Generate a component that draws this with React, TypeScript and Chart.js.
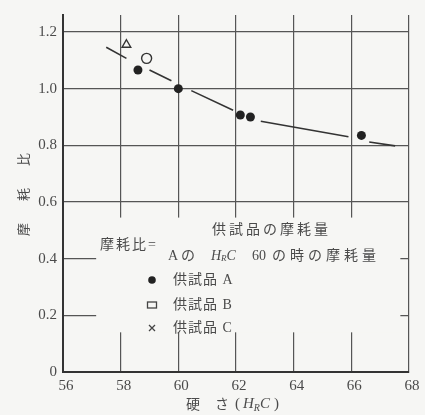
import React, { useEffect, useRef } from 'react';
import { Chart, registerables } from 'chart.js';
Chart.register(...registerables);

// ---- data ----
const xTickValues = [56, 58, 60, 62, 64, 66, 68];
const yTickValues = [0, 0.2, 0.4, 0.6, 0.8, 1.0, 1.2];
const specimenA = [
  { x: 58.6, y: 1.066 },
  { x: 60.0, y: 1.0 },
  { x: 62.15, y: 0.907 },
  { x: 62.5, y: 0.9 },
  { x: 66.35, y: 0.835 },
];
const specimenB = [{ x: 58.9, y: 1.107 }];
const specimenC = [{ x: 58.2, y: 1.155 }];
const trendLine = [
  { x: 57.5, y: 1.146 }, { x: 58.2, y: 1.107 }, { x: 58.6, y: null },
  { x: 59.0, y: 1.066 }, { x: 59.76, y: 1.028 }, { x: 60.1, y: null },
  { x: 60.45, y: 0.993 }, { x: 61.9, y: 0.924 }, { x: 62.3, y: null },
  { x: 62.86, y: 0.885 }, { x: 65.9, y: 0.83 }, { x: 66.3, y: null },
  { x: 66.62, y: 0.812 }, { x: 67.52, y: 0.798 },
];
const yTitle = ['摩', '耗', '比'];
const legendLabels = ['供試品 A', '供試品 B', '供試品 C'];
const ratioLabel = '摩耗比=';
const numeratorText = '供試品の摩耗量';
const denomPrefix = 'A';
const denomNo = 'の';
const denomValue = '60';
const denomSuffix = 'の時の摩耗量';

const BG = '#f6f6f4';
const INK = '#333';
const TEXT = '#4a4a4a';
const SERIF = '"Liberation Serif", "DejaVu Serif", serif';
const CJK = '"Noto Sans CJK JP", sans-serif';

const overlay = {
  id: 'overlay',
  beforeDraw(chart: any) {
    const { ctx } = chart;
    ctx.save();
    ctx.fillStyle = BG;
    ctx.fillRect(0, 0, chart.width, chart.height);
    ctx.restore();
  },
  beforeDatasetsDraw(chart: any) {
    const { ctx, scales } = chart;
    const x = scales.x, y = scales.y;
    const l = x.getPixelForValue(57.15), r = x.getPixelForValue(67.7);
    const t = y.getPixelForValue(0.545), b = y.getPixelForValue(0.14);
    ctx.save();
    ctx.fillStyle = BG;
    ctx.fillRect(l, t, r - l, b - t);
    ctx.restore();
  },
  afterDraw(chart: any) {
    const { ctx, chartArea } = chart;
    ctx.save();
    ctx.fillStyle = TEXT;
    ctx.strokeStyle = TEXT;
    ctx.textBaseline = 'middle';
    ctx.textAlign = 'left';

    // y title (rotated)
    const cy = (chartArea.top + chartArea.bottom) / 2;
    ctx.font = `13px ${CJK}`;
    yTitle.forEach((ch, i) => {
      ctx.save();
      ctx.translate(23, cy + 36 - i * 35);
      ctx.rotate(-Math.PI / 2);
      ctx.textAlign = 'center';
      ctx.fillText(ch, 0, 0);
      ctx.restore();
    });

    // x title
    const ty = 404;
    ctx.font = `14px ${CJK}`;
    ctx.textAlign = 'center';
    ctx.fillText('硬', 193, ty);
    ctx.fillText('さ', 222, ty);
    ctx.textAlign = 'left';
    let px = 235;
    ctx.font = `15px ${SERIF}`;
    ctx.fillText('(', px, ty); px += ctx.measureText('(').width + 3;
    ctx.font = `italic 15px ${SERIF}`;
    ctx.fillText('H', px, ty); px += ctx.measureText('H').width;
    ctx.font = `italic 10px ${SERIF}`;
    ctx.fillText('R', px, ty + 4); px += ctx.measureText('R').width;
    ctx.font = `italic 15px ${SERIF}`;
    ctx.fillText('C', px, ty); px += ctx.measureText('C').width + 4;
    ctx.font = `15px ${SERIF}`;
    ctx.fillText(')', px, ty);

    // ratio formula
    ctx.font = `14px "Liberation Serif", ${CJK}`;
    (ctx as any).letterSpacing = '2px';
    ctx.fillText(ratioLabel, 100, 245);
    (ctx as any).letterSpacing = '3px';
    ctx.fillText(numeratorText, 212, 230);
    (ctx as any).letterSpacing = '0px';
    const dy = 256;
    ctx.font = `14px "Liberation Serif", ${CJK}`;
    ctx.fillText(denomPrefix, 168, dy);
    ctx.fillText(denomNo, 181, dy);
    let dx = 211;
    ctx.font = `italic 14px ${SERIF}`;
    ctx.fillText('H', dx, dy); dx += ctx.measureText('H').width;
    ctx.font = `italic 9px ${SERIF}`;
    ctx.fillText('R', dx, dy + 3); dx += ctx.measureText('R').width;
    ctx.font = `italic 14px ${SERIF}`;
    ctx.fillText('C', dx, dy);
    ctx.font = `14px "Liberation Serif", ${CJK}`;
    ctx.fillText(denomValue, 252, dy);
    (ctx as any).letterSpacing = '4px';
    ctx.fillText(denomSuffix, 272, dy);
    (ctx as any).letterSpacing = '1px';

    // legend
    const lx = 152;
    const rows = [280, 305, 328];
    ctx.fillStyle = '#222';
    ctx.beginPath();
    ctx.arc(lx, rows[0], 3.8, 0, Math.PI * 2);
    ctx.fill();
    ctx.lineWidth = 1.3;
    ctx.strokeStyle = '#444';
    ctx.strokeRect(lx - 4.5, rows[1] - 3, 9, 6);
    ctx.beginPath();
    ctx.moveTo(lx - 3, rows[2] - 3); ctx.lineTo(lx + 3, rows[2] + 3);
    ctx.moveTo(lx + 3, rows[2] - 3); ctx.lineTo(lx - 3, rows[2] + 3);
    ctx.stroke();
    ctx.fillStyle = TEXT;
    ctx.font = `14px "Liberation Serif", ${CJK}`;
    legendLabels.forEach((lab, i) => ctx.fillText(lab, 173, rows[i]));
    (ctx as any).letterSpacing = '0px';
    ctx.restore();
  },
};

export default function App() {
  const ref = useRef<HTMLCanvasElement>(null);
  useEffect(() => {
    if (!ref.current) return;
    const chart = new Chart(ref.current, {
      type: 'scatter',
      data: {
        datasets: [
          {
            type: 'line',
            label: 'trend',
            data: trendLine as any,
            borderColor: INK,
            borderWidth: 1.6,
            pointRadius: 0,
            spanGaps: false,
            fill: false,
          } as any,
          {
            label: '供試品 A',
            data: specimenA,
            pointRadius: 4.5,
            pointBackgroundColor: '#222',
            pointBorderColor: '#222',
            pointBorderWidth: 0,
          },
          {
            label: '供試品 B',
            data: specimenB,
            pointRadius: 5,
            pointBackgroundColor: BG,
            pointBorderColor: INK,
            pointBorderWidth: 1.4,
          },
          {
            label: '供試品 C',
            data: specimenC,
            pointStyle: 'triangle',
            pointRadius: 5,
            pointBackgroundColor: BG,
            pointBorderColor: INK,
            pointBorderWidth: 1.4,
          },
        ],
      },
      options: {
        responsive: false,
        animation: false,
        layout: { padding: { top: 10, right: 16, left: 0, bottom: 0 } },
        plugins: { legend: { display: false }, tooltip: { enabled: false } },
        scales: {
          x: {
            type: 'linear',
            min: 56,
            max: 68,
            afterBuildTicks: (s: any) => { s.ticks = xTickValues.map((v) => ({ value: v })); },
            afterFit: (s: any) => { s.height = 43; },
            ticks: { font: { family: SERIF, size: 15 }, color: TEXT, padding: 5, maxRotation: 0, labelOffset: 3 },
            grid: { color: '#555', lineWidth: 1.2, drawTicks: false },
            border: { color: INK, width: 2 },
          },
          y: {
            type: 'linear',
            min: 0,
            max: 1.26,
            afterBuildTicks: (s: any) => { s.ticks = yTickValues.map((v) => ({ value: v })); },
            afterFit: (s: any) => { s.width = 63; },
            ticks: {
              font: { family: SERIF, size: 15 },
              color: TEXT,
              padding: 6,
              callback: (v: any) => (v === 0 ? '0' : Number(v).toFixed(1)),
            },
            grid: { color: '#555', lineWidth: 1.2, drawTicks: false },
            border: { color: INK, width: 2 },
          },
        },
      },
      plugins: [overlay],
    });
    return () => chart.destroy();
  }, []);
  return (
    <div style={{ position: 'absolute', left: 0, top: 0, width: 425, height: 415, background: BG }}>
      <canvas ref={ref} width={425} height={415} style={{ display: 'block', width: 425, height: 415 }} />
    </div>
  );
}
